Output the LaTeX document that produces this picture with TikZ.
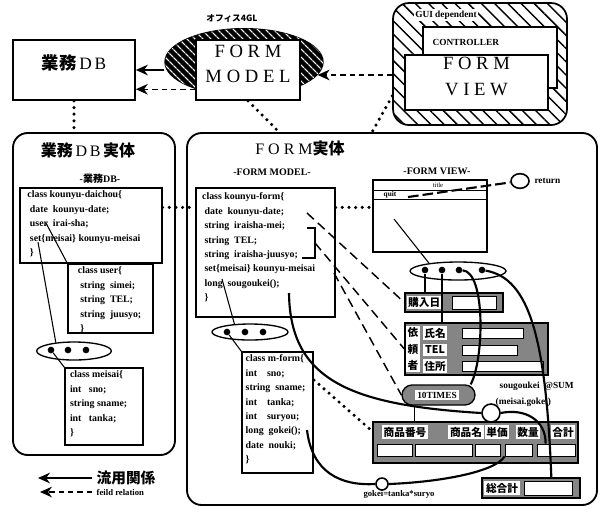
\documentclass[tikz,border=0pt]{standalone}
\usepackage{fontspec}
\setmainfont{Liberation Serif}
\newfontfamily\jp{Noto Sans CJK JP}
\usetikzlibrary{arrows.meta, positioning, fit, calc, shapes.geometric, patterns, patterns.meta}

\newcommand{\clsfont}{\fontsize{7.4}{10.8}\selectfont\bfseries}
\newcommand{\wfont}{\fontsize{8}{9}\selectfont\jp\bfseries}
\newcommand{\jpb}{\jp\bfseries}

\begin{document}
\begin{tikzpicture}[x=0.75pt, y=-0.75pt,
    panel/.style={draw, line width=1.4pt, rounded corners=11pt, inner sep=0pt},
    topbox/.style={draw, line width=1.3pt, fill=white, inner sep=0pt, align=center, font=\fontsize{14}{19}\selectfont},
    classbox/.style={draw, line width=0.9pt, fill=white, inner sep=0pt},
    classtext/.style={anchor=north west, align=left, inner xsep=4pt, inner ysep=2.5pt, font=\clsfont},
    heading/.style={font=\fontsize{12}{14}\selectfont},
    caption/.style={font=\fontsize{7.5}{9}\selectfont\bfseries},
    oval/.style={ellipse, draw, line width=1pt, fill=white, inner sep=0pt},
    dot/.style={circle, fill=black, inner sep=0pt, minimum size=5pt},
    widget/.style={draw, line width=1pt, inner sep=0pt, fill=black!48},
    wlabel/.style={fill=white, inner sep=1.2pt, font=\wfont},
    field/.style={draw, line width=0.6pt, fill=white, inner sep=0pt},
    hole/.style={ellipse, draw, line width=1.2pt, fill=white, inner sep=0pt},
    usearrow/.style={-{Stealth[length=9pt, width=8pt]}, line width=1.1pt},
    fieldarrow/.style={-{Stealth[length=9pt, width=8pt]}, line width=1.1pt, dash pattern=on 4pt off 3pt},
    useline/.style={line width=0.8pt},
    valline/.style={line width=1.6pt},
    fieldline/.style={line width=1.1pt, dash pattern=on 7pt off 4pt},
    instline/.style={line width=2.6pt, dash pattern=on 0pt off 5pt, line cap=round}
]
    \useasboundingbox (0,0) rectangle (605,512);

    \node[panel, fit={(13,133) (175,455)}] (dbreal) {};
    \node[panel, fit={(187,133) (597,505)}] (formreal) {};

    \node[topbox, fit={(13,40) (135,100)}, font=\fontsize{13}{15}\selectfont] (gyomudb) {{\jpb 業務}\,D\,B};
    \node[ellipse, draw, line width=1pt, fill=black, inner sep=0pt, minimum width=118.5pt, minimum height=50pt,
          postaction={pattern={Lines[angle=-45, distance=4pt, line width=1pt]}, pattern color=white}] (office) at (244,62) {};
    \node[font=\fontsize{6.5}{7}\selectfont\jpb] (officelbl) at (232,18) {オフィス4GL};
    \node[topbox, fit={(196,40) (300,100)}] (fmodel) {F O R M\\M O D E L};

    \node[draw, line width=1.3pt, rounded corners=12pt, inner sep=0pt, fit={(393,3) (567,125)},
          pattern={Lines[angle=-45, distance=7pt, line width=1.1pt]}] (guibox) {};
    \node[draw, line width=1pt, fill=white, inner sep=0pt, fit={(423,27) (557,88)}] (ctrl) {};
    \node[topbox, fit={(405,55) (548,110)}] (fview) {F O R M\\V I E W};
    \node[font=\fontsize{7}{8}\selectfont\bfseries, fill=white, inner sep=1pt] (guilbl) at (446,15) {GUI dependent};
    \node[font=\fontsize{7}{8}\selectfont\bfseries, anchor=west] (ctrllbl) at (428,42) {CONTROLLER};

    \draw[usearrow] (office.west |- gyomudb) -- (gyomudb);
    \draw[fieldarrow] (fmodel.200) -- (gyomudb.east |- fmodel.200);
    \draw[fieldarrow] (guibox.west |- office.-10) -- (office.-10);
    \draw[instline] (gyomudb.south) -- (gyomudb.south |- dbreal.north);
    \draw[instline] (fmodel.south) -- ($(formreal.north west)+(93,0)$);
    \draw[instline] (guibox.200) -- ($(formreal.north west)+(186,0)$);

    \node[heading] (dbtitle) at (88,150) {{\jpb 業務}\,D\,B\,{\jpb 実体}};
    \node[caption] (dbcap) at (100,179) {-{\jpb 業務}DB-};
    \node[classbox, fit={(20,188) (162,263)}] (daichou) {};
    \node[classtext] (daichoutxt) at (daichou.north west) {\ class kounyu-daichou\{\\
        \ \ date\ \ kounyu-date;\\
        \ \ user\ \ irai-sha;\\
        \ \ set\{meisai\} kounyu-meisai\\
        \ \ \}};
    \node[classbox, fit={(68,264) (153,333)}] (user) {};
    \node[classtext] (usertxt) at (user.north west) {\ \ class user\{\\
        \ \ \ string\ \ simei;\\
        \ \ \ string\ \ TEL;\\
        \ \ \ string\ \ juusyo;\\
        \ \ \ \}};
    \node[oval, minimum width=56pt, minimum height=13.5pt] (loval) at (74,351) {};
    \node[dot] (ldot1) at (51,350) {};
    \node[dot] (ldot2) at (68,350) {};
    \node[dot] (ldot3) at (86,350) {};
    \node[classbox, fit={(65,368) (143,445)}] (meisai) {};
    \node[classtext] (meisaitxt) at (meisai.north west) {class meisai\{\\
        int\ \ \ sno;\\
        string\ sname;\\
        int\ \ \ tanka;\\
        \}};

    \coordinate (userfld) at (46,223);
    \coordinate (setfld) at (38,242);
    \draw[useline] (userfld) -- (user.north west);
    \draw[useline] (setfld) -- (loval.155);
    \draw[useline] (ldot1) -- (meisai.north west);

    \node[font=\fontsize{11}{13}\selectfont\jpb, anchor=west] (lguse) at (92,478) {流用関係};
    \node[font=\fontsize{6.5}{8}\selectfont\bfseries, anchor=west] (lgfield) at (92,492) {feild relation};
    \coordinate (lgusetip) at (38,478);
    \coordinate (lgfieldtip) at (40,492);
    \draw[usearrow] (lguse.west) -- (lgusetip);
    \draw[fieldarrow] (lgfield.west) -- (lgfieldtip);

    \node[heading] (formtitle) at (300,148) {F O R M{\jpb 実体}};
    \node[caption] (fmcap) at (272,172) {-FORM MODEL-};
    \node[classbox, fit={(196,188) (335,317)}] (kform) {};
    \node[classtext, inner ysep=4pt, inner xsep=3pt] (kformtxt) at (kform.north west) {\ class kounyu-form\{\\
        \ \ date\ \ kounyu-date;\\
        \ \ string\ \ iraisha-mei;\\
        \ \ string\ \ TEL;\\
        \ \ string\ \ iraisha-juusyo;\\
        \ \ set\{meisai\} kounyu-meisai\\
        \ \ long\ \ sougoukei();\\
        \ \ \}};
    \node[oval, minimum width=57pt, minimum height=12pt] (moval) at (250,332) {};
    \node[dot] (mdot1) at (227,332) {};
    \node[dot] (mdot2) at (245,332) {};
    \node[dot] (mdot3) at (263,332) {};
    \node[classbox, fit={(242,352) (313,473)}] (mform) {};
    \node[classtext, inner xsep=3pt] (mformtxt) at (mform.north west) {class m-form\{\\
        int\ \ \ \ sno;\\
        string\ \ sname;\\
        int\ \ \ \ tanka;\\
        int\ \ \ \ suryou;\\
        long\ \ gokei();\\
        date\ \ nouki;\\
        \}};

    \draw[line width=1pt] (307,228) -- (315,228) -- (315,258) -- (302,258);
    \coordinate (kdate) at (307,213);
    \coordinate (kirai) at (315,243);
    \coordinate (kmeisai) at (334,273);
    \coordinate (kset) at (222,279);
    \coordinate (ksogo) at (289,293);
    \coordinate (msname) at (314,380);
    \coordinate (mgokei) at (307,430);
    \draw[useline] (kset) -- (moval.153);
    \draw[useline] (mdot1) -- (mform.north west);

    \node[caption] (fvcap) at (437,171) {-FORM VIEW-};
    \node[draw, line width=0.9pt, fill=white, inner sep=0pt, fit={(373,180) (487,252)}] (window) {};
    \draw[line width=0.7pt] (373,190) -- (487,190);
    \draw[line width=0.7pt] (373,199) -- (487,199);
    \node[font=\fontsize{5}{6}\selectfont, inner sep=0pt] (titlelbl) at (438,185) {title};
    \node[font=\fontsize{5.5}{6}\selectfont\bfseries, inner sep=0pt] (quitlbl) at (390,194.5) {quit};
    \node[hole, minimum width=13.5pt, minimum height=11pt] (ret) at (520,181) {};
    \node[font=\fontsize{7}{8}\selectfont\bfseries, anchor=west] (retlbl) at (ret.east) {return};
    \coordinate (quitpt) at (408,197);
    \draw[line width=1.6pt, dash pattern=on 8pt off 3pt] (quitpt) -- (ret);

    \draw[instline] ($(daichou.north east)+(0,20)$) -- ($(kform.north west)+(0,20)$);
    \draw[instline] ($(kform.north east)+(0,20)$) -- ($(window.north west)+(0,28)$);

    \node[oval, minimum width=72pt, minimum height=13.5pt] (voval) at (458,271) {};
    \node[dot] (vdot1) at (425,270) {};
    \node[dot] (vdot2) at (442,270) {};
    \node[dot] (vdot3) at (459,270) {};
    \node[dot] (vdot4) at (482,270) {};
    \coordinate (winpt) at (394,219);
    \draw[useline] (winpt) -- (voval.165);

    \node[widget, fit={(405,293) (503,312)}] (kounyubi) {};
    \node[wlabel, anchor=west] (kbilbl) at ($(kounyubi.west)+(2,0)$) {購入日};
    \node[field, fit={(452,296) (496,309)}] (kbifld) {};

    \node[widget, fit={(405,323) (548,375)}] (irai) {};
    \node[wlabel, align=center, font=\fontsize{8}{12.5}\selectfont\jpb] (irailbl) at (413,349) {依\\頼\\者};
    \node[wlabel] (namelbl) at (435,333) {氏名};
    \node[wlabel] (tellbl) at (435,350) {TEL};
    \node[wlabel] (addrlbl) at (435,366) {住所};
    \node[field, fit={(462,328) (523,338)}] (namefld) {};
    \node[field, fit={(462,345) (517,355)}] (telfld) {};
    \node[field, fit={(462,361) (543,371)}] (addrfld) {};

    \node[widget, rounded corners=7.5pt, fit={(402,385) (475,405)}] (times) {};
    \node[wlabel, font=\fontsize{7}{8}\selectfont\bfseries, inner sep=1.5pt] (timeslbl) at (437,395) {10TIMES};

    \node[widget, fit={(373,422) (578,463)}] (table) {};
    \node[wlabel] (h1) at (405,432) {商品番号};
    \node[wlabel] (h2) at (466,432) {商品名};
    \node[wlabel] (h3) at (497,432) {単価};
    \node[wlabel] (h4) at (528,432) {数量};
    \node[wlabel] (h5) at (563,432) {合計};
    \node[field, fit={(377,444) (412,456)}] (f1) {};
    \node[field, fit={(415,444) (472,456)}] (f2) {};
    \node[field, fit={(475,444) (500,456)}] (f3) {};
    \node[field, fit={(505,444) (532,456)}] (f4) {};
    \node[field, fit={(537,444) (575,456)}] (f5) {};

    \node[widget, fit={(482,478) (580,498)}] (sogokei) {};
    \node[wlabel] (sglbl) at (502,488) {総合計};
    \node[field, fit={(524,481) (572,495)}] (sgfld) {};

    \node[hole, minimum width=13.5pt, minimum height=13.5pt] (sum) at (491,413) {};
    \node[font=\fontsize{7}{8}\selectfont\bfseries, anchor=west] (sumlbl) at (495,386) {sougoukei\ \ @SUM};
    \node[font=\fontsize{7}{8}\selectfont\bfseries, anchor=west] (sumarg) at (491,402) {(meisai.gokei)};
    \node[hole, minimum width=9pt, minimum height=9pt] (gok) at (382,484) {};
    \node[font=\fontsize{6.5}{8}\selectfont\bfseries] (goklbl) at (399,494) {gokei=tanka*suryo};

    \draw[fieldline] (kdate) -- (kounyubi.west);
    \draw[fieldline] (kirai) -- (irai.west);
    \draw[fieldline] (kmeisai) -- (times.west);
    \draw[instline] (msname) -- ($(table.north west)+(0,10)$);

    \draw[useline] (vdot1) -- (vdot1 |- kounyubi.north);
    \draw[useline] (vdot2) -- (vdot2 |- irai.north);
    \draw[valline] (vdot3) .. controls (486,272) and (484,360) .. ($(times.north east)+(-5,0)$);
    \draw[valline] (vdot4) .. controls (530,278) and (546,340) .. ($(sogokei.north west)+(70,0)$);
    \draw[useline] ($(times.south west)+(13,0)$) -- ($(table.north west)+(42,0)$);

    \draw[valline] (ksogo) .. controls (290,380) and (350,405) .. (sum.west);
    \draw[valline] (sum.east) .. controls (525,408) and (546,420) .. ($(f5.north west)+(9,0)$);
    \draw[valline] (mgokei) .. controls (312,472) and (340,486) .. (gok.west);
    \draw[valline] (gok.east) .. controls (440,482) and (495,472) .. (f4.south west);

\end{tikzpicture}
\end{document}
